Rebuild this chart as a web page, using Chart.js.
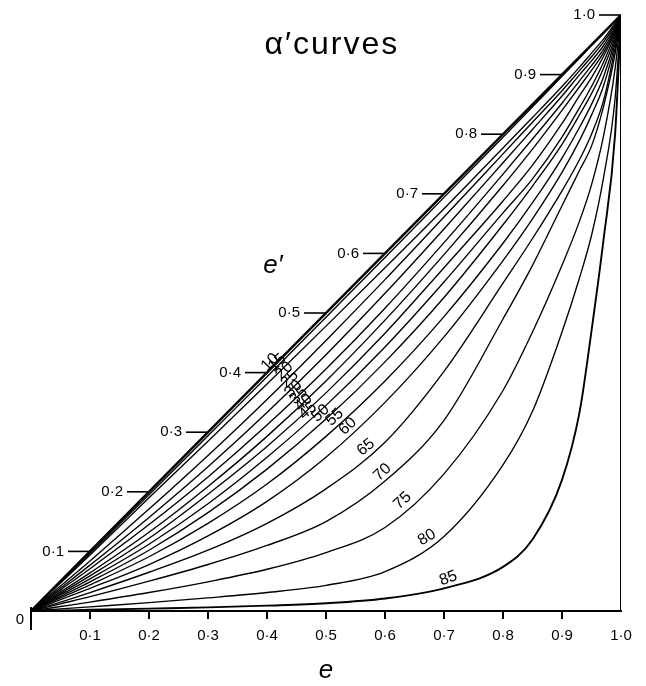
<!DOCTYPE html>
<html>
<head>
<meta charset="utf-8">
<script src="https://cdn.jsdelivr.net/npm/chart.js@4.4.0/dist/chart.umd.min.js"></script>
<style>
html,body{margin:0;padding:0;background:#fff;}
#wrap{width:646px;height:686px;}
</style>
</head>
<body>
<div id="wrap"><canvas id="c" width="646" height="686"></canvas></div>
<script>
// e values at which each α' curve was read
const E_VALUES = [0, 0.05, 0.1, 0.2, 0.3, 0.4, 0.5, 0.6, 0.7, 0.8, 0.85, 0.9, 0.93, 0.95, 0.97, 0.99, 1];
const ALPHA = ['10','15','20','25','30','35','40','45','50','55','60','65','70','75','80','85'];

// e' values for each α' curve
const c10 = [0, 0.049, 0.097, 0.195, 0.294, 0.393, 0.493, 0.593, 0.694, 0.795, 0.846, 0.897, 0.928, 0.949, 0.969, 0.990, 1];
const c15 = [0, 0.047, 0.094, 0.19, 0.285, 0.381, 0.478, 0.576, 0.675, 0.777, 0.828, 0.88, 0.913, 0.936, 0.959, 0.986, 1];
const c20 = [0, 0.042, 0.084, 0.171, 0.261, 0.355, 0.454, 0.556, 0.661, 0.767, 0.82, 0.873, 0.907, 0.93, 0.954, 0.983, 1];
const c25 = [0, 0.0385, 0.077, 0.157, 0.242, 0.333, 0.43, 0.533, 0.641, 0.752, 0.808, 0.864, 0.9, 0.923, 0.948, 0.98, 1];
const c30 = [0, 0.0355, 0.071, 0.145, 0.225, 0.312, 0.406, 0.508, 0.618, 0.733, 0.792, 0.852, 0.89, 0.915, 0.942, 0.977, 1];
const c35 = [0, 0.032, 0.064, 0.132, 0.209, 0.293, 0.386, 0.488, 0.598, 0.714, 0.775, 0.84, 0.88, 0.907, 0.936, 0.975, 1];
const c40 = [0, 0.0295, 0.059, 0.122, 0.196, 0.276, 0.366, 0.466, 0.576, 0.688, 0.748, 0.818, 0.865, 0.895, 0.93, 0.972, 1];
const c45 = [0, 0.027, 0.054, 0.112, 0.18, 0.258, 0.345, 0.443, 0.552, 0.668, 0.725, 0.795, 0.845, 0.88, 0.92, 0.968, 1];
const c50 = [0, 0.0245, 0.049, 0.102, 0.165, 0.238, 0.322, 0.418, 0.526, 0.648, 0.713, 0.783, 0.833, 0.868, 0.91, 0.963, 1];
const c55 = [0, 0.022, 0.044, 0.091, 0.147, 0.213, 0.293, 0.386, 0.494, 0.617, 0.685, 0.76, 0.812, 0.85, 0.895, 0.958, 1];
const c60 = [0, 0.019, 0.038, 0.078, 0.126, 0.184, 0.258, 0.35, 0.46, 0.588, 0.658, 0.736, 0.79, 0.832, 0.88, 0.952, 1];
const c65 = [0, 0.015, 0.031, 0.065, 0.102, 0.147, 0.205, 0.283, 0.402, 0.55, 0.625, 0.705, 0.758, 0.80, 0.855, 0.945, 1];
const c70 = [0, 0.012, 0.024, 0.05, 0.078, 0.11, 0.15, 0.218, 0.32, 0.49, 0.58, 0.68, 0.74, 0.78, 0.845, 0.935, 1];
const c75 = [0, 0.0075, 0.015, 0.031, 0.049, 0.07, 0.098, 0.14, 0.23, 0.37, 0.468, 0.58, 0.655, 0.715, 0.795, 0.91, 1];
const c80 = [0, 0.0035, 0.007, 0.014, 0.022, 0.031, 0.043, 0.066, 0.125, 0.245, 0.335, 0.468, 0.56, 0.63, 0.725, 0.86, 1];
const c85 = [0, 0.001, 0.002, 0.004, 0.006, 0.009, 0.013, 0.021, 0.038, 0.074, 0.12, 0.22, 0.335, 0.47, 0.62, 0.80, 1];
const SERIES = [c10, c15, c20, c25, c30, c35, c40, c45, c50, c55, c60, c65, c70, c75, c80, c85];

// tick values on the e' diagonal
const DIAG_TICKS = [0.1, 0.2, 0.3, 0.4, 0.5, 0.6, 0.7, 0.8, 0.9, 1.0];
// e at which each curve is labelled
const LABEL_AT = [0.415, 0.427, 0.439, 0.448, 0.454, 0.463, 0.471, 0.478, 0.5, 0.524, 0.546, 0.576, 0.605, 0.639, 0.678, 0.712];

const FONT = '"Liberation Sans", Arial, Helvetica, sans-serif';
function fmt(v){ return v.toFixed(1).replace('.', '\u00B7'); }
function interp(arr, e){
  for (let i = 0; i < E_VALUES.length - 1; i++){
    if (e >= E_VALUES[i] && e <= E_VALUES[i+1]){
      const t = (e - E_VALUES[i]) / (E_VALUES[i+1] - E_VALUES[i]);
      return arr[i] + t * (arr[i+1] - arr[i]);
    }
  }
  return arr[arr.length-1];
}

const datasets = SERIES.map((arr, i) => ({
  label: ALPHA[i],
  data: E_VALUES.map((x, j) => ({x: x, y: arr[j]})),
  showLine: true,
  borderColor: '#000',
  borderWidth: i === SERIES.length - 1 ? 1.9 : 1.35,
  pointRadius: 0,
  cubicInterpolationMode: 'monotone',
  fill: false
}));
datasets.push({label:'diagonal', data:[{x:0,y:0},{x:1,y:1}], showLine:true, borderColor:'#000', borderWidth:2.4, pointRadius:0});
datasets.push({label:'edge', data:[{x:1,y:0},{x:1,y:1}], showLine:true, borderColor:'#000', borderWidth:2, pointRadius:0});

const annotate = {
  id: 'annotate',
  beforeDraw(chart){
    const c = chart.ctx;
    c.save(); c.fillStyle = '#fff'; c.fillRect(0, 0, chart.width, chart.height); c.restore();
  },
  afterDraw(chart){
    const ctx = chart.ctx;
    const xs = chart.scales.x, ys = chart.scales.y;
    ctx.save();
    ctx.fillStyle = '#000';
    ctx.strokeStyle = '#000';
    // diagonal e' ticks
    ctx.font = '15px ' + FONT;
    ctx.textAlign = 'right';
    ctx.textBaseline = 'middle';
    ctx.lineWidth = 1.6;
    DIAG_TICKS.forEach(v => {
      const px = xs.getPixelForValue(v), py = ys.getPixelForValue(v);
      ctx.beginPath(); ctx.moveTo(px - 22, py); ctx.lineTo(px, py); ctx.stroke();
      ctx.fillText(fmt(v), px - 26, py);
    });
    // origin tick and label
    const x0 = xs.getPixelForValue(0), yb = ys.getPixelForValue(0);
    ctx.lineWidth = 2;
    ctx.beginPath(); ctx.moveTo(x0, yb - 4); ctx.lineTo(x0, yb + 19); ctx.stroke();
    ctx.fillText('0', x0 - 7, yb + 9);
    // curve labels
    ctx.textAlign = 'center';
    ctx.textBaseline = 'middle';
    ctx.font = '16px ' + FONT;
    SERIES.forEach((arr, i) => {
      const e = LABEL_AT[i];
      const px = xs.getPixelForValue(e), py = ys.getPixelForValue(interp(arr, e));
      const dx = xs.getPixelForValue(e + 0.01) - xs.getPixelForValue(e - 0.01);
      const dy = ys.getPixelForValue(interp(arr, e + 0.01)) - ys.getPixelForValue(interp(arr, e - 0.01));
      const len = Math.hypot(dx, dy);
      const ang = Math.atan2(dy, dx);
      const nx = dy / len, ny = -dx / len;
      ctx.save();
      ctx.translate(px + nx * 8, py + ny * 8);
      ctx.rotate(ang);
      ctx.fillText(ALPHA[i], 0, 0);
      ctx.restore();
    });
    // title
    ctx.textAlign = 'center';
    ctx.font = '32px ' + FONT;
    try { ctx.letterSpacing = '2px'; } catch (err) {}
    ctx.fillText('\u03B1\u2032curves', xs.getPixelForValue(0.51), ys.getPixelForValue(0.95));
    try { ctx.letterSpacing = '0px'; } catch (err) {}
    // e' label
    ctx.font = 'italic 26px ' + FONT;
    ctx.fillText('e\u2032', xs.getPixelForValue(0.41), ys.getPixelForValue(0.58));
    ctx.restore();
  }
};

new Chart(document.getElementById('c'), {
  type: 'scatter',
  data: { datasets: datasets },
  options: {
    responsive: false,
    animation: false,
    devicePixelRatio: 1,
    layout: { padding: { left: 31, right: 25, top: 15, bottom: 0 } },
    plugins: { legend: { display: false }, tooltip: { enabled: false }, title: { display: false } },
    scales: {
      x: {
        type: 'linear', min: 0, max: 1, position: 'bottom',
        afterFit: s => { s.height = 75; },
        ticks: {
          stepSize: 0.1, autoSkip: false, maxRotation: 0, padding: 8, color: '#000',
          font: { family: FONT, size: 15 },
          callback: v => (Math.abs(v) < 1e-9 ? '' : fmt(v))
        },
        grid: {
          drawOnChartArea: false, drawTicks: true, tickLength: 8, lineWidth: 2,
          color: ctx => (ctx.tick && (Math.abs(ctx.tick.value) < 1e-9 || Math.abs(ctx.tick.value - 1) < 1e-9)) ? 'rgba(0,0,0,0)' : '#000'
        },
        border: { display: true, color: '#000', width: 2 },
        title: { display: true, text: 'e', color: '#000', padding: 0, font: { family: FONT, size: 26, style: 'italic' } }
      },
      y: { type: 'linear', min: 0, max: 1, display: false }
    }
  },
  plugins: [annotate]
});
</script>
</body>
</html>
